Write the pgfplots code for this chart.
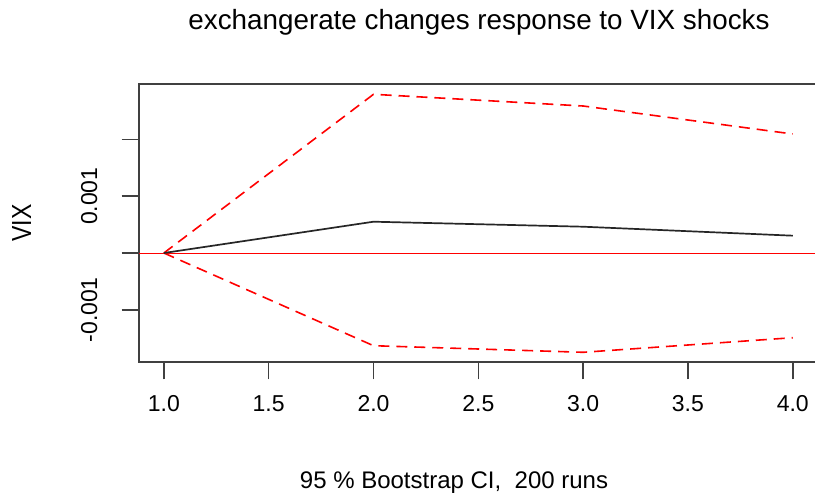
\documentclass[border=0pt]{standalone}
\usepackage{pgfplots}
\pgfplotsset{compat=1.18}
\usepackage{fontspec}
\setmainfont{Liberation Sans}

% Impulse response of exchange rate changes to a VIX shock
\pgfplotstableread{
h   irf      lower     upper
1   0        0         0
2   0.000551 -0.001632 0.002794
3   0.000463 -0.001748 0.002588
4   0.000305 -0.001491 0.002095
}\irftable

\newcommand{\px}[1]{\fontsize{#1bp}{#1bp}\selectfont}

\begin{document}
\begin{tikzpicture}[x=1bp,y=1bp]
\useasboundingbox (0,0) rectangle (815,496);
\begin{axis}[
  at={(138.7bp,133.7bp)}, anchor=south west,
  scale only axis, width=679.2bp, height=278.6bp,
  xmin=0.88, xmax=4.12, ymin=-0.001924, ymax=0.002981,
  axis line style={draw=black!75, line width=1.8bp},
  xtick={1,1.5,2,2.5,3,3.5,4},
  xticklabels={1.0,1.5,2.0,2.5,3.0,3.5,4.0},
  ytick={-0.001,0.001,0.002},
  yticklabels={-0.001,0.001,},
  % horizontal reference line at zero
  extra y ticks={0},
  extra y tick labels={},
  extra y tick style={ymajorgrids=true, major grid style={draw=red, line width=1bp}},
  tick align=outside, major tick length=17bp,
  tick style={draw=black!75, line width=1.5bp},
  xtick pos=bottom, ytick pos=left,
  scaled y ticks=false,
  xticklabel style={font=\px{23}, anchor=base, yshift=-32bp},
  yticklabel style={font=\px{23}, rotate=90, anchor=base, yshift=24.5bp},
  clip=false,
]
\addplot[draw=red, line width=1.6bp, dash pattern=on 11bp off 7bp] table[x=h, y=upper] {\irftable};
\addplot[draw=red, line width=1.6bp, dash pattern=on 11bp off 7bp] table[x=h, y=lower] {\irftable};
\addplot[draw=black!85, line width=1.7bp] table[x=h, y=irf] {\irftable};
\end{axis}
\node[anchor=base, font=\px{27.8}, inner sep=0] at (479,466) {exchangerate changes response to VIX shocks};
\node[anchor=base, font=\px{24}, inner sep=0] at (454,7) {95 \% Bootstrap CI,\ \ 200 runs};
\node[anchor=base, font=\px{23}, inner sep=0, rotate=90] at (31,273) {\scalebox{1}[1.2]{VIX}};
\end{tikzpicture}
\end{document}
